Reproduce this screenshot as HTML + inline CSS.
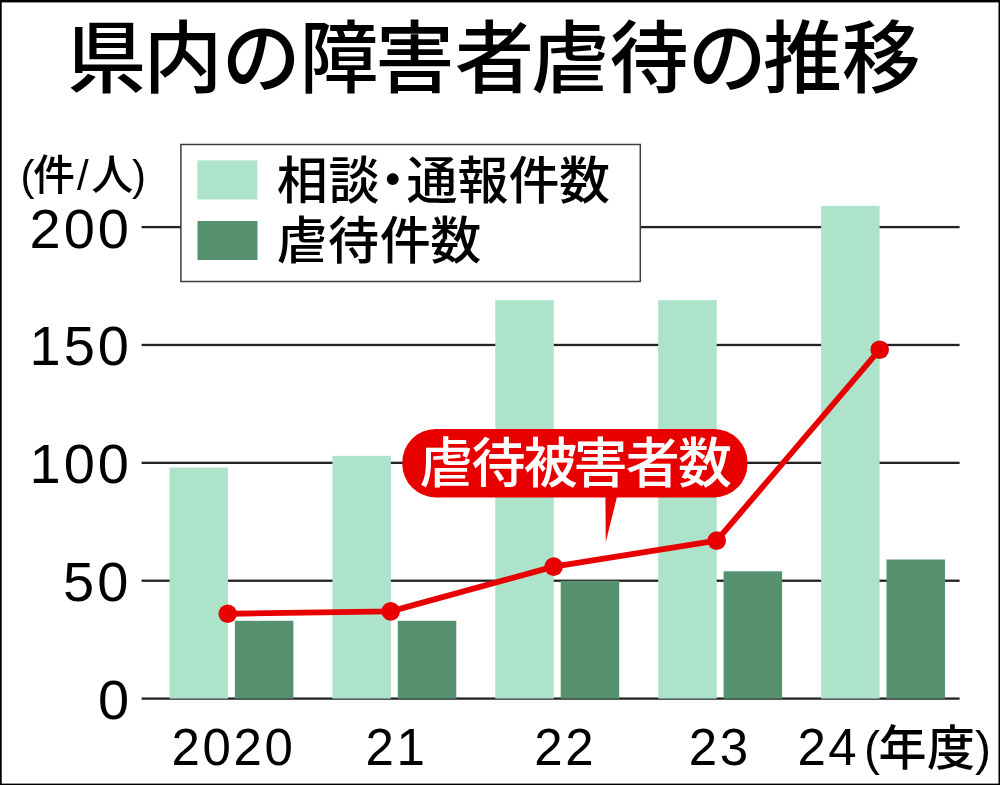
<!DOCTYPE html>
<html lang="ja">
<head>
<meta charset="utf-8">
<title>県内の障害者虐待の推移</title>
<style>
html,body{margin:0;padding:0;background:#fff;}
body{width:1000px;height:785px;position:relative;overflow:hidden;font-family:"Liberation Sans",sans-serif;}
#chart{position:absolute;left:0;top:0;width:1000px;height:785px;overflow:hidden;}
.t{position:absolute;color:transparent;white-space:nowrap;overflow:hidden;text-align:center;font-family:"Liberation Sans",sans-serif;}
</style>
</head>
<body>
<div id="chart">
<svg width="1000" height="785" viewBox="0 0 1000 785" style="position:absolute;left:0;top:0">
<defs><filter id="soft" filterUnits="userSpaceOnUse" x="-20" y="-20" width="1040" height="825"><feGaussianBlur stdDeviation="0.75"/></filter></defs>
<g filter="url(#soft)">
<rect x="-20" y="-20" width="1040" height="825" fill="#fff"/>
<rect x="141.6" y="697.45" width="818" height="2.3" fill="#242424"/>
<rect x="141.6" y="579.58" width="818" height="2.3" fill="#242424"/>
<rect x="141.6" y="461.70" width="818" height="2.3" fill="#242424"/>
<rect x="141.6" y="343.83" width="818" height="2.3" fill="#242424"/>
<rect x="141.6" y="225.95" width="818" height="2.3" fill="#242424"/>
<rect x="169.50" y="467.57" width="58.50" height="231.03" fill="#ace3ca"/>
<rect x="234.90" y="620.80" width="58.50" height="77.80" fill="#579270"/>
<rect x="332.40" y="455.78" width="58.50" height="242.82" fill="#ace3ca"/>
<rect x="397.80" y="620.80" width="58.50" height="77.80" fill="#579270"/>
<rect x="495.30" y="300.18" width="58.50" height="398.42" fill="#ace3ca"/>
<rect x="560.70" y="580.73" width="58.50" height="117.88" fill="#579270"/>
<rect x="658.20" y="300.18" width="58.50" height="398.42" fill="#ace3ca"/>
<rect x="723.60" y="571.30" width="58.50" height="127.30" fill="#579270"/>
<rect x="821.10" y="205.88" width="58.50" height="492.72" fill="#ace3ca"/>
<rect x="886.50" y="559.51" width="58.50" height="139.09" fill="#579270"/>
<rect x="180.9" y="144.5" width="459.4" height="137" fill="#fff" stroke="#3c3c3c" stroke-width="1.5"/>
<rect x="197.3" y="160.4" width="60" height="39.1" fill="#ace3ca"/>
<rect x="197.5" y="221.0" width="60" height="39" fill="#579270"/>
<polyline fill="none" stroke="#e80000" stroke-width="5.8" stroke-linejoin="round" points="227.70,613.73 390.70,611.37 553.70,566.58 716.70,540.65 879.70,349.69"/>
<circle cx="227.70" cy="613.73" r="9.3" fill="#e80000"/>
<circle cx="390.70" cy="611.37" r="9.3" fill="#e80000"/>
<circle cx="553.70" cy="566.58" r="9.3" fill="#e80000"/>
<circle cx="716.70" cy="540.65" r="9.3" fill="#e80000"/>
<circle cx="879.70" cy="349.69" r="9.3" fill="#e80000"/>
<rect x="402.3" y="428.9" width="345.2" height="68.5" rx="33.5" ry="33.5" fill="#e80000"/>
<path d="M605.4 496 L617.2 496 L605.8 542 Z" fill="#e80000"/>
<!-- title -->
<text x="66.9 143.5 221.8 299.4 375.2 454.9 530.8 609.4 687.7 763.0 841.8" y="86.9" font-size="79" font-weight="500" fill="#000" font-family='"Liberation Sans", "Noto Sans CJK JP", sans-serif'>県内の障害者虐待の推移</text>
<!-- unit -->
<text x="20.5 33 77 91.2 132" y="189.5" font-size="42" font-weight="500" fill="#000" font-family='"Liberation Sans", "Noto Sans CJK JP", sans-serif'>(件/人)</text>
<!-- leg1 -->
<text x="276.8 328.5 367.2 406.4 457.5 508.6 559.1" y="198.6" font-size="51" font-weight="500" fill="#000" font-family='"Liberation Sans", "Noto Sans CJK JP", sans-serif'>相談・通報件数</text>
<!-- leg2 -->
<text x="276.4 328.1 379.7 430.2" y="258.8" font-size="51" font-weight="500" fill="#000" font-family='"Liberation Sans", "Noto Sans CJK JP", sans-serif'>虐待件数</text>
<!-- y labels -->
<text x="29.5" y="247.7" font-size="56" letter-spacing="3" fill="#000" font-family='"Liberation Sans", sans-serif'>200</text>
<text x="29.5" y="365.4" font-size="56" letter-spacing="3" fill="#000" font-family='"Liberation Sans", sans-serif'>150</text>
<text x="29.5" y="483.2" font-size="56" letter-spacing="3" fill="#000" font-family='"Liberation Sans", sans-serif'>100</text>
<text x="63" y="601.2" font-size="56" letter-spacing="3" fill="#000" font-family='"Liberation Sans", sans-serif'>50</text>
<text x="98" y="719" font-size="56" letter-spacing="3" fill="#000" font-family='"Liberation Sans", sans-serif'>0</text>
<!-- pill -->
<text x="419.3 471.4 523.7 573.6 625.8 677.9" y="483" font-size="54" font-weight="500" fill="#fff" font-family='"Liberation Sans", "Noto Sans CJK JP", sans-serif'>虐待被害者数</text>
<!-- x labels -->
<text x="171.5" y="764.8" font-size="51" letter-spacing="2.6" fill="#000" font-family='"Liberation Sans", sans-serif'>2020</text>
<text x="365.5" y="765.2" font-size="51" letter-spacing="2.6" fill="#000" font-family='"Liberation Sans", sans-serif'>21</text>
<text x="534.3" y="765.2" font-size="51" letter-spacing="2.6" fill="#000" font-family='"Liberation Sans", sans-serif'>22</text>
<text x="688.7" y="764.8" font-size="51" letter-spacing="2.6" fill="#000" font-family='"Liberation Sans", sans-serif'>23</text>
<text x="797.4" y="765.2" font-size="51" letter-spacing="2.6" fill="#000" font-family='"Liberation Sans", sans-serif'>24</text>
<!-- xunit -->
<text x="864 878.5 927 975" y="765" font-size="48" font-weight="500" fill="#000" font-family='"Liberation Sans", "Noto Sans CJK JP", sans-serif'>(年度)</text>
<rect x="-20" y="-20" width="1040" height="22.4" fill="#000"/>
<rect x="-20" y="-20" width="21.7" height="825" fill="#000"/>
<rect x="998.5" y="-20" width="21.5" height="825" fill="#000"/>
<rect x="-20" y="783.6" width="1040" height="21.4" fill="#000"/>
</g>
</svg>
<div class="t" style="left:70px;top:18px;width:850px;height:80px;font-size:40px;line-height:80px">県内の障害者虐待の推移</div>
<div class="t" style="left:20px;top:148px;width:125px;height:48px;font-size:20px;line-height:48px">(件/人)</div>
<div class="t" style="left:278px;top:152px;width:335px;height:52px;font-size:24px;line-height:52px">相談・通報件数</div>
<div class="t" style="left:278px;top:213px;width:205px;height:52px;font-size:24px;line-height:52px">虐待件数</div>
<div class="t" style="left:30px;top:205px;width:100px;height:44px;font-size:40px;line-height:44px">200</div>
<div class="t" style="left:30px;top:322px;width:100px;height:44px;font-size:40px;line-height:44px">150</div>
<div class="t" style="left:30px;top:440px;width:100px;height:44px;font-size:40px;line-height:44px">100</div>
<div class="t" style="left:60px;top:558px;width:70px;height:44px;font-size:40px;line-height:44px">50</div>
<div class="t" style="left:96px;top:676px;width:34px;height:44px;font-size:40px;line-height:44px">0</div>
<div class="t" style="left:420px;top:436px;width:310px;height:54px;font-size:24px;line-height:54px">虐待被害者数</div>
<div class="t" style="left:172px;top:727px;width:120px;height:40px;font-size:36px;line-height:40px">2020</div>
<div class="t" style="left:366px;top:727px;width:52px;height:40px;font-size:36px;line-height:40px">21</div>
<div class="t" style="left:534px;top:727px;width:60px;height:40px;font-size:36px;line-height:40px">22</div>
<div class="t" style="left:690px;top:727px;width:58px;height:40px;font-size:36px;line-height:40px">23</div>
<div class="t" style="left:797px;top:727px;width:60px;height:40px;font-size:36px;line-height:40px">24</div>
<div class="t" style="left:866px;top:726px;width:122px;height:46px;font-size:20px;line-height:46px">(年度)</div>
</div>
</body>
</html>
